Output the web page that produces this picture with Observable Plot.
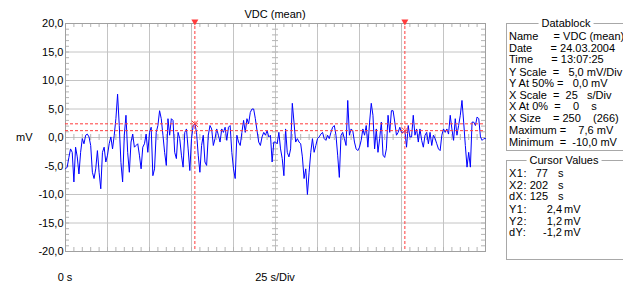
<!DOCTYPE html>
<html>
<head>
<meta charset="utf-8">
<script src="https://cdn.jsdelivr.net/npm/d3@7"></script>
<script src="https://cdn.jsdelivr.net/npm/@observablehq/plot@0.6"></script>
<style>
  html, body { margin: 0; padding: 0; background: #ffffff; }
  #wrap { position: relative; width: 623px; height: 284px; overflow: hidden; background: #ffffff;
          font-family: Arial, "Liberation Sans", sans-serif; font-size: 11px; color: #000; }
  #chart { position: absolute; left: 0; top: 0; }
  .lbl { position: absolute; white-space: pre; line-height: 12px; }
  .cv { position: absolute; white-space: pre; line-height: 12px; letter-spacing: 0.5px; }
  .box { position: absolute; border: 1px solid #a8a8a8; border-right: none; }
  .boxtitle { position: absolute; background: #fff; padding: 0 3px; white-space: pre; line-height: 12px; }
</style>
</head>
<body>
<div id="wrap">
  <div id="chart"></div>
</div>
<script>
// ---------- data ----------
const title = "VDC (mean)";
const yUnit = "mV";
const xStartLabel = "0 s";
const xScaleLabel = "25 s/Div";
const xMax = 250;                 // seconds (10 divisions x 25 s)
const yMajor = [-20, -15, -10, -5, 0, 5, 10, 15, 20];
const xMajor = [0, 25, 50, 75, 100, 125, 150, 175, 200, 225, 250];
const cursorX = [77, 202];        // s
const cursorY = [2.4, 1.2];       // mV

// VDC (mean) samples, 1 s apart (mV)
const vdc = [
  -5.5,-5.2,-3.5,-2.0,-2.6,-7.8,-1.7,-3.4,-6.4,-2.6,
  -0.2,-1.1,0.4,0.6,0.1,-1.4,-6.1,-7.2,-5.5,-2.3,
  -6.1,-9.0,-2.6,-1.7,-4.3,-3.1,-1.1,0.1,-2.0,0.4,
  3.3,7.6,2.1,-4.4,-7.8,0.4,3.9,-2.6,-6.1,-0.8,
  0.6,-1.7,-1.4,-1.1,-3.1,-5.5,-1.7,-1.1,0.6,-2.6,
  0.9,1.8,-6.7,-5.5,0.9,2.1,4.7,3.3,0.4,-2.6,
  -4.9,3.3,0.4,3.3,3.0,-2.6,-3.7,0.9,-0.2,-3.1,
  -5.2,0.9,1.5,-2.0,-5.8,-0.2,2.1,2.4,0.9,-3.1,
  -6.1,-1.4,0.4,-4.3,-4.9,0.4,2.1,1.5,-1.4,-0.2,
  1.5,0.4,-0.8,1.5,0.9,1.8,-0.5,1.8,2.1,-2.6,
  -5.5,-7.2,0.4,-0.8,-1.4,0.9,3.0,0.9,3.3,2.4,
  4.4,5.0,5.0,3.3,1.2,-0.8,-1.4,0.1,0.9,0.4,
  1.2,0.1,0.4,-4.3,-0.8,-0.8,-1.1,0.9,-2.0,-3.7,
  -6.7,1.5,-2.6,-3.4,-2.0,6.0,2.7,-0.8,-0.2,-0.8,
  -1.1,-3.4,-7.2,-5.5,-10.0,-6.1,-2.6,-0.2,-2.6,-1.4,
  -0.2,0.1,0.6,0.9,-0.2,-0.5,0.4,-0.2,0.9,1.8,
  2.1,0.4,-3.1,-7.0,0.4,0.9,-0.2,-1.4,6.5,0.4,
  1.5,1.2,-0.8,-2.0,-2.3,-1.7,-0.5,1.5,0.4,2.1,
  -1.7,2.7,6.0,3.9,-2.0,1.5,-2.6,-0.2,2.7,-3.1,
  -3.5,-2.0,3.9,0.9,4.7,4.7,2.7,0.4,0.9,1.8,
  0.9,0.9,1.2,-1.7,2.1,0.1,0.1,3.9,0.4,1.5,
  -0.8,1.5,-0.5,-1.7,0.4,0.9,-1.1,0.9,-1.4,0.4,
  -0.2,-1.1,-2.0,-2.3,0.4,1.5,0.9,1.5,0.6,3.9,
  1.5,-0.5,3.3,0.4,2.1,3.9,6.5,2.7,-1.4,-5.2,
  -2.6,-5.2,2.7,2.7,2.1,3.6,3.3,0.1,-0.5,-0.2,
  -0.2
];

// Datablock texts
const dbTitle = "Datablock";
const dbRows = [
  "Name     = VDC (mean)",
  "Date      = 24.03.2004",
  "Time      = 13:07:25",
  "Y Scale  =   5,0 mV/Div",
  "Y At 50% =   0,0 mV",
  "X Scale  =  25   s/Div",
  "X At 0%  =    0    s",
  "X Size    = 250    (266)",
  "Maximum =    7,6 mV",
  "Minimum  =  -10,0 mV"
];
const cvTitle = "Cursor Values";
const cvLabels = ["X1:", "X2:", "dX:", "Y1:", "Y2:", "dY:"];
const cvNumbers = ["77", "202", "125", "2,4", "1,2", "-1,2"];
const cvUnits = ["s", "s", "s", "mV", "mV", "mV"];

// ---------- layout ----------
const W = 500, H = 284;
const mL = 65, mR = 15, mT = 23, mB = 33;
const pw = W - mL - mR, ph = H - mT - mB;
const tickLen = 3;
const fmt = d => d.toFixed(1).replace(".", ",");
const minorX = d3.range(0, xMax + 0.1, 5);
const minorY = d3.range(-20, 20.1, 1);
const data = vdc.map((v, i) => ({t: i, v}));
const red = "#ff3b3b";
const gridC = "#c4c4c4";

const chart = Plot.plot({
  width: W, height: H,
  marginLeft: mL, marginRight: mR, marginTop: mT, marginBottom: mB,
  x: {domain: [0, xMax], axis: null},
  y: {domain: [-20, 20], axis: null},
  style: {background: "transparent", fontFamily: 'Arial, "Liberation Sans", sans-serif', fontSize: "11px", color: "#000", overflow: "visible"},
  marks: [
    Plot.ruleX(xMajor.slice(1, -1), {stroke: gridC}),
    Plot.ruleY(yMajor.slice(1, -1), {stroke: gridC}),
    // minor ticks on frame edges and centre lines
    Plot.tickY(minorY, {y: d => d, stroke: "#b4b4b4", insetRight: pw - tickLen - 1}),
    Plot.tickY(minorY, {y: d => d, stroke: "#b4b4b4", insetLeft: pw - tickLen - 1}),
    Plot.tickY(minorY, {y: d => d, stroke: "#b4b4b4", insetLeft: pw / 2 - tickLen, insetRight: pw / 2 - tickLen}),
    Plot.tickX(minorX, {x: d => d, stroke: "#b4b4b4", insetBottom: ph - tickLen - 1}),
    Plot.tickX(minorX, {x: d => d, stroke: "#b4b4b4", insetTop: ph - tickLen - 1}),
    Plot.tickX(minorX, {x: d => d, stroke: "#b4b4b4", insetTop: ph / 2 - tickLen, insetBottom: ph / 2 - tickLen}),
    Plot.frame({stroke: "#a0a0a0"}),
    Plot.axisY(yMajor, {anchor: "left", tickSize: 0, tickPadding: 2, tickFormat: fmt, label: null, fontSize: 11, fill: "#000"}),
    // signal
    Plot.line(data, {x: "t", y: "v", stroke: "#0000ff", strokeWidth: 1}),
    // cursors
    Plot.ruleY(cursorY, {stroke: red, strokeDasharray: "3,2", strokeWidth: 1}),
    Plot.ruleX(cursorX, {stroke: red, strokeDasharray: "3,2", strokeWidth: 1, insetTop: -2}),
    Plot.dot(cursorX, {x: d => d, y: () => 20, symbol: "triangle", rotate: 180, r: 2.6, fill: red, stroke: null, dy: -2}),
    Plot.dot(cursorX.map((x, i) => ({x, y: cursorY[i]})), {x: "x", y: "y", symbol: "times", r: 3, stroke: red, strokeWidth: 1})
  ]
});
document.getElementById("chart").appendChild(chart);

// ---------- html text ----------
const wrap = document.getElementById("wrap");
function addText(txt, x, y, opts = {}) {
  const d = document.createElement("div");
  d.className = opts.cls || "lbl";
  d.textContent = txt;
  d.style.top = (y - 6) + "px";
  if (opts.anchor === "middle") { d.style.left = x + "px"; d.style.transform = "translateX(-50%)"; }
  else if (opts.anchor === "end") { d.style.right = (623 - x) + "px"; }
  else d.style.left = x + "px";
  wrap.appendChild(d);
  return d;
}
addText(title, mL + pw / 2, 14, {anchor: "middle"});
addText(yUnit, 16, 137);
addText(xStartLabel, mL, 277, {anchor: "middle"});
addText(xScaleLabel, mL + pw / 2, 277, {anchor: "middle"});

// group boxes
function addBox(x, y, w, h) {
  const b = document.createElement("div");
  b.className = "box";
  b.style.left = x + "px"; b.style.top = y + "px";
  b.style.width = w + "px"; b.style.height = h + "px";
  wrap.appendChild(b);
}
const bx = 506;
addBox(bx, 23, 130, 126);
addText(dbTitle, 566, 23, {anchor: "middle", cls: "boxtitle"});
dbRows.forEach((r, i) => addText(r, 509, 36 + i * 11.5 + (i >= 3 ? 1 : 0) + (i >= 8 ? 1 : 0)));

addBox(bx, 160, 130, 98);
addText(cvTitle, 564, 160, {anchor: "middle", cls: "boxtitle"});
cvLabels.forEach((l, i) => {
  const y = 173 + i * 11.5 + (i >= 3 ? 1.5 : 0);
  addText(l, 509, y, {cls: "cv"});
  if (i < 3) {
    addText(cvNumbers[i], 548, y, {anchor: "end"});
    addText(cvUnits[i], 558, y);
  } else {
    addText(cvNumbers[i], 562, y, {anchor: "end"});
    addText(cvUnits[i], 564, y);
  }
});
</script>
</body>
</html>
